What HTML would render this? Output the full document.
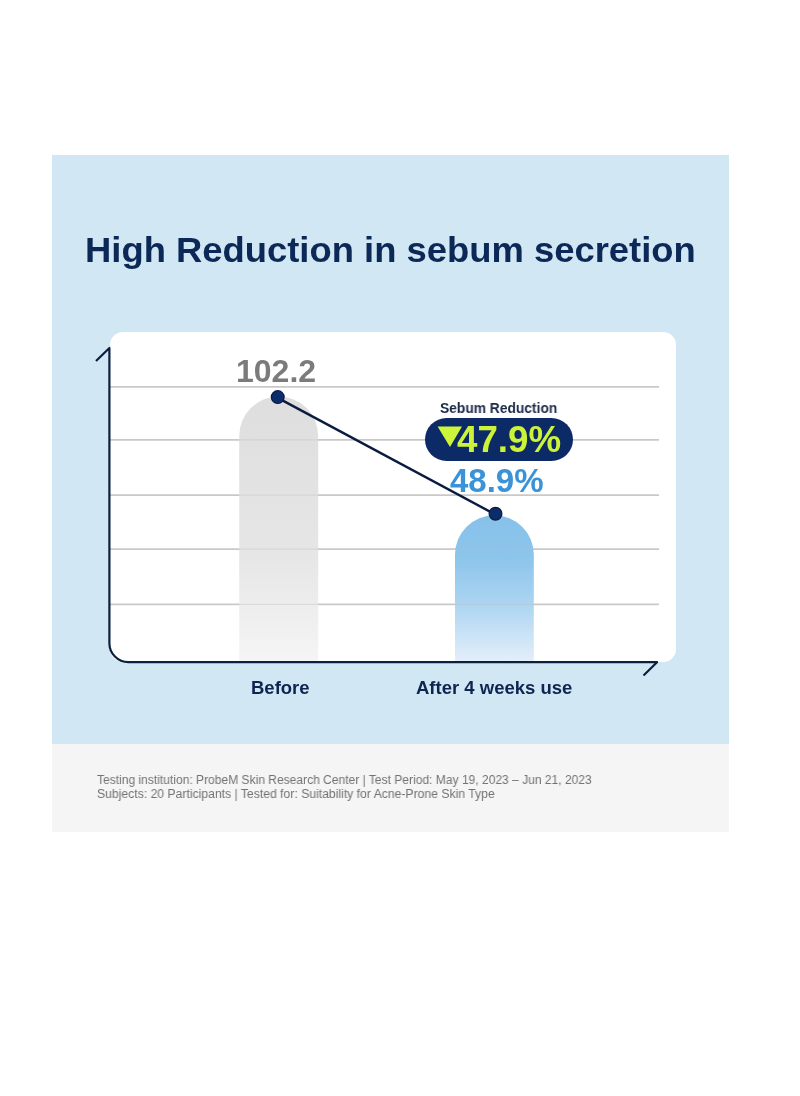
<!DOCTYPE html>
<html><head><meta charset="utf-8">
<style>
html,body{margin:0;padding:0;background:#fff;width:800px;height:1096px;overflow:hidden;}
body{position:relative;font-family:"Liberation Sans",sans-serif;}
.abs{position:absolute;white-space:nowrap;will-change:transform;}
#panel{position:absolute;left:52px;top:155px;width:677px;height:589px;background:#d2e7f4;}
#foot{position:absolute;left:52px;top:744px;width:677px;height:88px;background:#f5f5f5;}
#card{position:absolute;left:110px;top:332px;width:566px;height:330px;background:#fff;border-radius:13px;}
svg{position:absolute;left:0;top:0;}
#title{left:84.5px;top:230px;font-size:35px;line-height:40px;font-weight:bold;color:#0c2857;transform-origin:0 0;transform:scaleX(1.040);}
#v1{left:236px;top:355px;font-size:32px;line-height:32px;font-weight:bold;color:#7b7b7b;transform-origin:0 0;}
#sr{left:440px;top:400px;font-size:14px;line-height:16px;font-weight:bold;color:#1a2846;transform-origin:0 0;transform:scaleX(0.985);}
#pill{position:absolute;left:425px;top:418px;width:147.5px;height:43px;border-radius:22px;background:#0b2a66;}
#v3{left:457px;top:422px;font-size:36px;line-height:36px;font-weight:bold;color:#cdf23a;transform-origin:0 0;transform:scaleX(1.02);}
#v2{left:449.5px;top:464.5px;font-size:33px;line-height:32px;font-weight:bold;color:#3a93d8;transform-origin:0 0;}
#l1{left:251px;top:677px;font-size:18.5px;line-height:22px;font-weight:bold;color:#0e2550;transform-origin:0 0;}
#l2{left:416px;top:677px;font-size:18.5px;line-height:22px;font-weight:bold;color:#0e2550;transform-origin:0 0;}
.ft{left:97px;font-size:12.5px;line-height:14px;color:#727272;transform-origin:0 0;}
</style></head><body>
<div id="panel"></div>
<div id="foot"></div>
<div id="card"></div>
<svg width="800" height="1096" viewBox="0 0 800 1096">
  <defs>
    <linearGradient id="gg" x1="0" y1="0" x2="0" y2="1">
      <stop offset="0" stop-color="#dedede"/>
      <stop offset="0.6" stop-color="#e6e6e6"/>
      <stop offset="1" stop-color="#f5f5f5"/>
    </linearGradient>
    <linearGradient id="bg" x1="0" y1="0" x2="0" y2="1">
      <stop offset="0" stop-color="#87c1ea"/>
      <stop offset="0.3" stop-color="#8dc5eb"/>
      <stop offset="0.6" stop-color="#acd4f1"/>
      <stop offset="1" stop-color="#e4effa"/>
    </linearGradient>
  </defs>
  <g stroke="#c8c9c9" stroke-width="1.7">
    <line x1="110" y1="386.8" x2="659" y2="386.8"/>
    <line x1="110" y1="439.8" x2="659" y2="439.8"/>
    <line x1="110" y1="495.1" x2="659" y2="495.1"/>
    <line x1="110" y1="549.2" x2="659" y2="549.2"/>
    <line x1="110" y1="604.4" x2="659" y2="604.4"/>
  </g>
  <path d="M239.2 662 V436 A39.5 39.5 0 0 1 318.2 436 V662 Z" fill="url(#gg)"/>
  <path d="M455 662 V554.6 A39.4 39.4 0 0 1 533.8 554.6 V662 Z" fill="url(#bg)"/>
  <g stroke="#b9bcc0" stroke-width="1.2" opacity="0.35">
    <line x1="239" y1="439.8" x2="319" y2="439.8"/>
    <line x1="239" y1="495.1" x2="319" y2="495.1"/>
    <line x1="239" y1="549.2" x2="319" y2="549.2"/>
    <line x1="239" y1="604.4" x2="319" y2="604.4"/>
    <line x1="455" y1="549.2" x2="534" y2="549.2"/>
    <line x1="455" y1="604.4" x2="534" y2="604.4"/>
  </g>
  <path d="M96 361 L109.4 348 V643 A19 19 0 0 0 128.4 662.2 H657 L643.5 675.5" fill="none" stroke="#0d1f3f" stroke-width="2.2" stroke-linejoin="round"/>
  <line x1="277.75" y1="397.9" x2="495.5" y2="514.6" stroke="#0a1b40" stroke-width="2.4"/>
  <circle cx="277.75" cy="397.1" r="6.4" fill="#0c2d6b" stroke="#0a1b40" stroke-width="1.2"/>
  <circle cx="495.5" cy="513.7" r="6.4" fill="#0c2d6b" stroke="#0a1b40" stroke-width="1.2"/>
</svg>
<div id="title" class="abs">High Reduction in sebum secretion</div>
<div id="v1" class="abs">102.2</div>
<div id="sr" class="abs">Sebum Reduction</div>
<div id="pill"></div>
<svg width="800" height="1096" viewBox="0 0 800 1096"><path d="M437.6 426.6 H462 L450 447 Z" fill="#cdf53a"/></svg>
<div id="v3" class="abs">47.9%</div>
<div id="v2" class="abs">48.9%</div>
<div id="l1" class="abs">Before</div>
<div id="l2" class="abs">After 4 weeks use</div>
<div class="abs ft" style="top:773px;transform:scaleX(0.963)">Testing institution: ProbeM Skin Research Center | Test Period: May 19, 2023 – Jun 21, 2023</div>
<div class="abs ft" style="top:787px;transform:scaleX(0.975)">Subjects: 20 Participants | Tested for: Suitability for Acne-Prone Skin Type</div>
</body></html>
